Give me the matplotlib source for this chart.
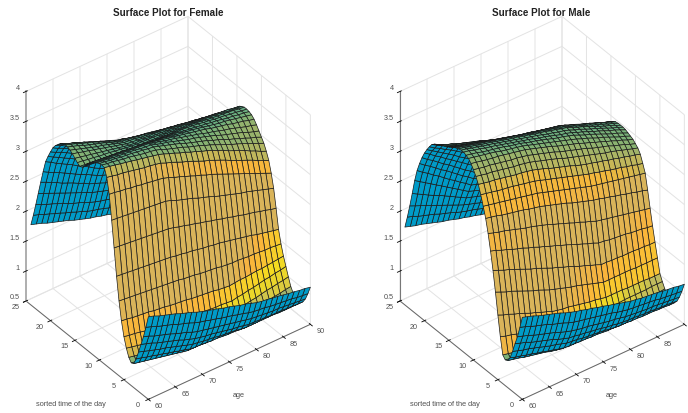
"""
Surface plots of z over age and sorted time of day, female and male panels.
"""
import numpy as np
import matplotlib
matplotlib.use("Agg")
import matplotlib.pyplot as plt
from matplotlib.colors import LinearSegmentedColormap, to_rgba
from mpl_toolkits.mplot3d import proj3d

plt.rcParams["font.family"] = ["Liberation Sans", "DejaVu Sans"]

ages = list(range(60, 91))
hours = [0.5 * i for i in range(49)]
x_ticks = [60, 65, 70, 75, 80, 85, 90]
y_ticks = [0, 5, 10, 15, 20, 25]
z_ticks = [0.5, 1, 1.5, 2, 2.5, 3, 3.5, 4]
z_labels = ["0.5", "1", "1.5", "2", "2.5", "3", "3.5", "4"]

# values, in hundredths; one row per hour value, one column per age
female_z = [
    [188,185,181,178,175,172,168,165,162,158,155,152,150,147,144,142,139,136,134,131,128,126,125,123,122,120,118,117,115,114,112],
    [167,164,160,157,154,151,147,144,141,137,134,132,129,127,124,122,120,117,115,112,110,109,108,106,105,104,103,102,100,99,98],
    [148,145,141,138,135,132,128,125,122,118,115,113,111,109,107,105,103,101,99,97,95,94,93,92,91,91,90,89,88,87,86],
    [132,129,126,122,119,116,113,110,106,103,100,98,96,95,93,91,89,87,86,84,82,82,81,81,80,80,80,79,79,78,78],
    [116,113,110,107,104,102,99,96,93,90,87,86,84,83,82,80,79,78,77,75,74,74,74,74,74,74,73,73,73,73,73],
    [101,99,96,94,91,89,86,84,81,79,76,75,75,74,73,73,72,71,71,70,69,69,69,70,70,70,70,70,71,71,71],
    [90,88,86,84,82,80,78,76,74,72,70,70,70,69,69,69,69,69,68,68,68,69,69,70,70,71,71,71,72,72,73],
    [88,86,84,82,80,78,76,74,72,70,68,68,68,69,69,69,69,69,70,70,70,71,72,73,74,75,75,76,77,78,79],
    [94,92,90,87,85,83,81,79,76,74,72,72,72,73,73,73,73,73,74,74,74,75,77,78,79,81,82,83,84,86,87],
    [106,104,102,100,98,96,93,91,89,87,85,85,85,85,85,85,84,84,84,84,84,86,87,89,90,92,94,95,97,98,100],
    [122,120,119,117,115,114,112,110,109,107,105,104,104,103,102,102,101,100,100,99,98,100,101,103,104,106,108,109,111,112,114],
    [145,144,142,141,140,139,137,136,135,133,132,131,130,128,127,126,125,124,122,121,120,121,122,122,123,124,124,125,126,127,128],
    [175,174,173,172,171,170,169,168,167,166,165,164,162,161,160,158,157,156,155,153,152,151,151,150,149,149,148,147,147,146,145],
    [213,212,211,210,209,208,207,206,205,204,203,201,200,198,197,195,193,192,190,189,187,185,183,181,179,177,174,172,170,168,166],
    [257,256,255,254,253,252,251,250,249,248,247,245,242,240,237,235,232,230,227,225,222,220,217,215,212,210,208,205,203,200,198],
    [300,299,298,297,296,295,294,293,292,291,290,287,283,280,277,274,270,267,264,260,257,254,251,248,245,243,240,237,234,231,228],
    [340,339,337,336,334,333,331,330,328,327,325,322,318,315,311,308,304,301,297,294,290,286,282,278,274,270,266,262,258,254,250],
    [365,363,361,360,358,356,354,352,351,349,347,343,340,336,332,329,325,321,317,314,310,306,302,297,293,289,285,281,276,272,268],
    [378,376,374,372,370,368,366,364,362,360,358,355,351,348,344,341,337,334,330,327,323,319,315,310,306,302,298,293,289,284,280],
    [379,377,376,374,372,371,369,367,365,364,362,359,355,352,349,346,342,339,336,332,329,325,321,317,313,310,306,302,298,294,290],
    [378,377,375,374,372,371,370,368,367,365,364,361,358,355,352,349,345,342,339,336,333,329,326,322,318,315,311,308,304,301,297],
    [376,375,374,372,371,370,369,368,366,365,364,361,358,356,353,350,347,344,342,339,336,333,330,326,323,320,317,314,310,307,304],
    [373,372,371,370,369,368,367,366,365,364,363,360,358,355,353,351,348,346,343,341,338,335,333,330,327,325,322,319,316,314,311],
    [370,369,368,367,366,365,364,363,362,361,360,358,356,354,352,350,348,346,344,342,340,338,335,333,331,329,326,324,322,319,317],
    [366,365,364,363,362,361,360,359,358,357,356,354,353,351,350,348,346,345,343,342,340,338,336,334,332,331,329,327,325,323,321],
    [361,360,359,358,357,356,355,354,353,352,351,350,349,347,346,345,344,343,341,340,339,337,336,334,333,331,329,328,326,325,323],
    [355,354,353,352,351,350,349,348,347,346,345,344,344,343,342,342,341,340,340,339,338,337,335,334,332,331,330,328,327,325,324],
    [349,348,347,346,345,344,343,342,341,340,339,339,338,338,338,338,337,337,337,336,336,335,334,332,331,330,329,328,327,325,324],
    [347,346,345,344,343,342,341,340,339,338,337,337,336,336,335,335,335,334,334,333,333,332,331,330,329,328,327,325,324,323,322],
    [350,349,347,346,344,343,342,340,339,337,336,335,335,334,334,333,332,332,331,331,330,329,328,327,326,325,324,323,322,320,319],
    [354,352,350,348,346,344,342,340,338,336,334,333,333,332,331,331,330,329,329,328,327,326,324,323,322,321,320,318,317,315,314],
    [358,356,353,351,348,346,343,341,338,336,333,332,331,330,329,329,328,327,326,325,324,322,321,319,318,316,314,313,311,310,308],
    [361,358,355,352,349,346,344,341,338,335,332,331,330,328,327,326,325,324,323,321,320,318,316,315,313,311,309,307,306,304,302],
    [363,360,357,353,350,347,344,341,337,334,331,329,328,326,325,323,321,320,318,317,315,313,311,309,307,305,303,301,299,297,295],
    [364,360,357,353,350,347,343,339,336,332,329,327,325,323,321,320,318,316,314,312,310,308,305,303,300,298,296,293,291,288,286],
    [362,358,355,351,348,344,340,337,333,330,326,324,321,319,317,315,312,310,308,305,303,300,298,295,293,290,287,285,282,280,277],
    [359,355,351,348,344,340,336,332,329,325,321,318,316,313,311,308,305,303,300,298,295,292,289,287,284,281,278,275,273,270,267],
    [354,350,346,342,338,335,331,327,323,319,315,312,309,306,303,301,298,295,292,289,286,283,280,277,274,271,268,265,262,259,256],
    [349,345,340,336,332,328,323,319,315,310,306,303,300,297,294,291,287,284,281,278,275,272,269,265,262,259,256,253,249,246,243],
    [342,337,333,328,324,319,314,310,305,301,296,293,289,286,282,279,276,272,269,265,262,259,255,252,249,246,242,239,236,232,229],
    [332,327,323,318,313,309,304,299,294,290,285,281,278,274,270,267,263,259,255,252,248,245,241,238,235,232,228,225,222,218,215],
    [321,316,311,306,301,296,291,286,281,276,271,267,264,260,256,253,249,245,241,238,234,231,228,224,221,218,215,212,208,205,202],
    [309,304,298,293,288,283,277,272,267,261,256,252,249,245,241,238,234,230,226,223,219,216,213,210,207,205,202,199,196,193,190],
    [289,284,279,275,270,265,260,255,251,246,241,237,234,230,227,223,219,216,212,209,205,202,200,197,195,192,190,187,185,182,180],
    [268,264,259,255,250,246,242,237,233,228,224,221,217,214,211,208,204,201,198,194,191,189,187,184,182,180,178,176,173,171,169],
    [246,242,238,234,230,226,222,218,214,210,206,203,200,197,194,191,188,185,182,179,176,174,172,170,168,166,163,161,159,157,155],
    [224,220,216,213,209,205,201,197,194,190,186,183,180,178,175,172,169,166,164,161,158,156,154,152,150,149,147,145,143,141,139],
    [203,200,196,193,189,186,182,179,175,172,168,165,163,160,157,155,152,149,146,144,141,139,138,136,135,133,131,130,128,127,125],
    [184,181,178,174,171,168,165,162,158,155,152,149,147,144,142,139,136,134,131,129,126,125,123,122,120,119,118,116,115,113,112],
]
male_z = [
    [187,184,181,177,174,171,168,165,161,158,155,153,150,148,145,143,140,138,135,133,130,129,127,126,125,124,122,121,120,118,117],
    [167,164,160,157,154,151,147,144,141,137,134,132,130,128,126,124,122,120,117,115,113,112,111,110,109,108,106,105,104,103,102],
    [148,145,142,138,135,132,129,126,122,119,116,114,112,111,109,107,105,103,102,100,98,97,96,95,94,94,93,92,91,90,89],
    [133,130,127,123,120,117,114,111,107,104,101,100,98,97,95,94,92,90,89,87,86,85,85,84,83,83,82,81,81,80,79],
    [117,114,111,109,106,103,100,97,95,92,89,88,87,85,84,83,82,81,79,78,77,77,76,76,75,75,75,74,74,73,73],
    [103,100,98,95,93,90,88,85,83,80,78,77,77,76,76,75,75,74,73,73,72,72,72,72,72,72,72,72,72,72,72],
    [95,93,91,88,86,84,82,80,77,75,73,73,72,72,72,71,71,71,71,70,70,70,71,71,72,72,72,73,73,74,74],
    [93,91,89,87,85,83,81,79,77,75,73,73,73,73,73,72,72,72,72,72,72,73,73,74,74,75,76,76,77,77,78],
    [98,96,94,92,90,88,86,84,82,80,78,78,78,77,77,77,77,77,76,76,76,77,77,78,79,79,80,81,81,82,83],
    [125,122,120,117,114,112,109,106,103,101,98,97,96,96,95,94,93,92,92,91,90,90,90,91,91,91,91,91,92,92,92],
    [158,154,151,147,144,140,136,133,129,126,122,120,118,117,115,113,111,109,108,106,104,104,104,104,103,103,103,103,102,102,102],
    [193,189,185,182,178,174,170,166,163,159,155,152,149,146,143,141,138,135,132,129,126,126,126,126,126,126,125,125,125,125,125],
    [226,222,218,215,211,207,203,199,196,192,188,184,181,177,174,170,166,163,159,156,152,152,151,151,150,150,150,149,149,148,148],
    [255,252,248,245,241,238,235,231,228,224,221,217,214,210,207,203,199,196,192,189,185,184,182,181,180,179,177,176,175,173,172],
    [281,278,275,273,270,267,264,261,259,256,253,250,246,243,239,236,232,229,225,222,218,216,214,212,210,208,206,204,202,200,198],
    [303,301,299,296,294,292,290,288,285,283,281,278,275,272,269,266,262,259,256,253,250,248,245,243,240,238,235,233,230,228,225],
    [320,318,316,314,312,310,308,306,304,302,300,297,294,291,288,285,282,279,276,273,270,268,266,264,262,260,258,256,254,252,250],
    [336,334,332,330,328,327,325,323,321,319,317,314,311,308,305,302,299,296,293,290,287,285,282,280,277,275,273,270,268,265,263],
    [350,348,346,345,343,341,339,337,336,334,332,329,326,322,319,316,313,310,306,303,300,298,295,293,290,288,285,283,280,278,275],
    [360,358,356,355,353,351,349,347,346,344,342,339,336,333,330,327,323,320,317,314,311,308,305,302,299,297,294,291,288,285,282],
    [368,366,364,363,361,359,357,355,354,352,350,347,344,341,338,335,331,328,325,322,319,316,312,309,306,303,299,296,293,289,286],
    [375,373,371,369,367,366,364,362,360,358,356,353,350,347,344,341,337,334,331,328,325,321,318,314,311,307,304,300,297,293,290],
    [380,378,376,374,372,370,367,365,363,361,359,356,353,350,347,344,341,338,335,332,329,325,322,318,314,311,307,303,299,296,292],
    [382,380,378,375,373,371,369,367,364,362,360,357,354,352,349,346,343,340,338,335,332,328,324,321,317,313,309,305,302,298,294],
    [384,382,379,377,374,372,370,367,365,362,360,357,355,352,349,347,344,341,338,336,333,329,326,322,318,315,311,307,304,300,296],
    [384,382,379,377,374,372,370,367,365,362,360,357,355,352,350,347,344,342,339,337,334,330,327,323,319,316,312,308,304,301,297],
    [383,381,378,376,373,371,369,366,364,361,359,357,354,352,349,347,345,342,340,337,335,331,327,324,320,316,312,308,305,301,297],
    [381,379,376,374,371,369,367,364,362,359,357,355,352,350,347,345,343,340,338,335,333,329,326,322,319,315,311,308,304,301,297],
    [379,376,374,371,369,366,363,361,358,356,353,351,349,346,344,342,340,338,335,333,331,328,324,321,317,314,310,307,303,300,296],
    [376,373,371,368,365,363,360,357,354,352,349,347,345,343,341,339,336,334,332,330,328,325,321,318,314,311,307,304,300,297,293],
    [373,370,367,364,361,359,356,353,350,347,344,342,340,338,336,334,332,330,328,326,324,321,317,314,310,307,304,300,297,293,290],
    [370,367,364,361,358,356,353,350,347,344,341,339,337,334,332,330,328,326,323,321,319,316,312,309,305,302,299,295,292,288,285],
    [368,365,362,359,356,353,350,347,344,341,338,336,333,331,328,326,324,321,319,316,314,311,307,304,300,297,294,290,287,283,280],
    [366,363,360,356,353,350,347,344,340,337,334,331,329,326,324,321,318,316,313,311,308,305,301,298,294,291,288,284,281,277,274],
    [363,359,356,352,349,345,341,338,334,331,327,324,322,319,317,314,311,309,306,304,301,298,294,291,287,284,281,277,274,270,267],
    [360,356,352,348,344,340,335,331,327,323,319,316,314,311,308,306,303,300,297,295,292,289,285,282,278,275,272,268,265,261,258],
    [358,353,349,344,339,335,330,325,320,316,311,308,305,302,299,297,294,291,288,285,282,279,275,272,268,265,262,258,255,251,248],
    [354,349,344,338,333,328,323,318,312,307,302,299,296,292,289,286,283,280,276,273,270,267,264,260,257,254,251,248,244,241,238],
    [347,341,336,330,325,319,313,308,302,297,291,288,284,281,277,274,271,267,264,260,257,254,251,247,244,241,238,235,231,228,225],
    [339,333,327,321,315,309,302,296,290,284,278,275,271,268,264,261,258,254,251,247,244,241,238,235,232,229,225,222,219,216,213],
    [330,324,317,311,304,298,291,285,278,272,265,262,258,255,251,248,244,241,237,234,230,227,224,221,218,215,212,209,206,203,200],
    [319,312,306,299,292,286,279,272,265,259,252,248,245,241,238,234,230,227,223,220,216,213,211,208,205,203,200,197,194,192,189],
    [306,299,293,286,279,273,266,259,252,246,239,235,232,228,225,221,217,214,210,207,203,201,198,196,193,191,188,186,183,181,178],
    [291,284,278,271,265,258,251,245,238,232,225,222,218,215,211,208,204,201,197,194,190,188,185,183,180,178,176,173,171,168,166],
    [271,265,259,253,247,241,235,229,223,217,211,208,204,201,198,195,191,188,185,181,178,176,174,171,169,167,164,162,160,157,155],
    [246,241,236,231,226,222,217,212,207,202,197,194,191,188,185,182,178,175,172,169,166,164,162,160,158,156,154,152,150,148,146],
    [222,218,214,210,206,202,198,194,190,186,182,179,176,173,170,168,165,162,159,156,153,151,149,148,146,144,142,140,139,137,135],
    [200,197,193,190,187,184,180,177,174,170,167,164,162,159,156,154,151,148,145,143,140,139,137,136,134,133,132,130,129,127,126],
    [180,177,174,172,169,166,163,160,158,155,152,150,147,145,142,140,138,135,133,130,128,127,126,125,124,123,121,120,119,118,117],
]

ELEV, AZIM = 37.6, -127.2
BOX = (203, 202, 264)
BLUE = "#009bc8"

upper_cmap = LinearSegmentedColormap.from_list("upper", [
    (0.00, "#1f8f9a"), (0.118, "#4fa58a"), (0.235, "#7cb277"), (0.353, "#a4b468"),
    (0.47, "#c0b75c"), (0.54, "#f0b83c"), (0.62, "#f8b63c"), (0.72, "#d9b45a"),
    (1.00, "#d9b45a")])
lower_old = LinearSegmentedColormap.from_list("lower_old", [
    (0.00, "#4fa58a"), (0.16, "#7cb277"), (0.29, "#b5b56a"), (0.48, "#f5dc20"),
    (0.68, "#f8cc2c"), (0.84, "#fab43c"), (1.00, "#d9b45a")])
lower_young = LinearSegmentedColormap.from_list("lower_young", [
    (0.00, "#4fa58a"), (0.16, "#7cb277"), (0.32, "#c0b75c"), (0.48, "#f0b83c"),
    (0.80, "#f8b63c"), (1.00, "#d9b45a")])


def face_colors(z):
    """Blue where the underside faces the viewer, otherwise by slope along the hour axis."""
    xs = np.array(ages, float) / 30 * BOX[0]
    ys = np.array(hours) / 25 * BOX[1]
    zs = z / 3.5 * BOX[2]
    a = np.radians(AZIM)
    e = np.radians(ELEV)
    view = np.array([np.cos(e) * np.cos(a), np.cos(e) * np.sin(a), np.sin(e)])

    dzdx = np.diff(zs, axis=1)[:-1, :] / np.diff(xs)[0]
    dzdy = np.diff(zs, axis=0)[:, :-1] / np.diff(ys)[0]
    facing = -dzdx * view[0] - dzdy * view[1] + view[2]

    step = np.diff(hours)[0]
    slope = (np.diff(z, axis=0)[:, :-1] + np.diff(z, axis=0)[:, 1:]) / (2 * step)
    mid_hours = (np.array(hours[:-1]) + np.array(hours[1:])) / 2
    mid_ages = (np.array(ages[:-1]) + np.array(ages[1:])) / 2
    old = np.clip((mid_ages - 70) / 10, 0, 1)[:, None]

    colors = np.zeros(slope.shape + (4,))
    for i, h in enumerate(mid_hours):
        if h < 7:
            t = np.clip(slope[i] / 0.62, 0, 1)
            colors[i] = lower_old(t) * old + lower_young(t) * (1 - old)
        else:
            colors[i] = upper_cmap(np.clip((slope[i] + 0.15) / 0.85, 0, 1))
    colors[facing < 0] = to_rgba(BLUE)
    return colors


def corner_px(ax, x, y, z):
    px, py, _ = proj3d.proj_transform(x, y, z, ax.get_proj())
    return ax.transData.transform((px, py))


def put_text(fig, x_px, y_px, s, **kw):
    fig.text(x_px / 688, 1 - y_px / 414, s, va="center", **kw)


def draw_panel(fig, z_table, corner, z_line, title, title_x, age_x, time_x):
    ax = fig.add_axes([0.1, 0.05, 0.6, 0.9], projection="3d", proj_type="ortho")
    ax.set_facecolor("none")
    ax.view_init(elev=ELEV, azim=AZIM)
    ax.set_xlim(60, 90, view_margin=0)
    ax.set_ylim(0, 25, view_margin=0)
    ax.set_zlim(0.5, 4, view_margin=0)
    ax.set_box_aspect(BOX, zoom=1.0)

    X, Y = np.meshgrid(ages, hours)
    Z = np.array(z_table) / 100.0
    ax.plot_surface(X, Y, Z, rstride=1, cstride=1, facecolors=face_colors(Z),
                    shade=False, edgecolor="#1a1a1a", linewidth=0.5, antialiased=True)

    ax.set_xticks(x_ticks)
    ax.set_yticks(y_ticks)
    ax.set_zticks(z_ticks)
    ax.set_xticklabels([])
    ax.set_yticklabels([])
    ax.set_zticklabels([])
    for axis in (ax.xaxis, ax.yaxis, ax.zaxis):
        axis.set_pane_color((1, 1, 1, 0))
        axis.line.set_color("#666666")
        axis.line.set_linewidth(0.7)
        axis._axinfo["grid"].update(color="#e3e3e3", linewidth=0.7)
        axis._axinfo["tick"].update(color="#555555", linewidth={True: 0.6, False: 0.4})
    ax.zaxis.line.set_color(z_line[0])
    ax.zaxis.line.set_linewidth(z_line[1])

    # scale and shift so the box corners land where the reference has them
    fig.canvas.draw()
    a = corner_px(ax, 60, 0, 0.5)
    b = corner_px(ax, 90, 0, 0.5)
    ax.set_box_aspect(BOX, zoom=162.0 / (b[0] - a[0]))
    fig.canvas.draw()
    a = corner_px(ax, 60, 25, 0.5)
    bbox = ax.get_position()
    dx = (corner[0] - a[0]) / fig.bbox.width
    dy = (414 - corner[1] - a[1]) / fig.bbox.height
    ax.set_position([bbox.x0 + dx, bbox.y0 + dy, bbox.width, bbox.height])
    fig.canvas.draw()

    tick_style = dict(fontsize=5.2, color="#505050")
    for v in x_ticks:
        px, py = corner_px(ax, v, 0, 0.5)
        if px + 6 < 688:
            put_text(fig, px + 10.5, 414 - py + 6.5, str(v), ha="center", **tick_style)
    for v in y_ticks:
        px, py = corner_px(ax, 60, v, 0.5)
        put_text(fig, px - 10.5, 414 - py + 5.5, str(v), ha="center", **tick_style)
    for v, s in zip(z_ticks, z_labels):
        px, py = corner_px(ax, 60, 25, v)
        put_text(fig, px - 6.5, 414 - py - 4, s, ha="right", **tick_style)

    put_text(fig, title_x, 13, title, ha="center", fontsize=7.1, fontweight="bold", color="#222222")
    put_text(fig, age_x, 396, "age", ha="center", fontsize=5.35, color="#505050")
    put_text(fig, time_x, 405, "sorted time of the day", ha="center", fontsize=5.35, color="#505050")


fig = plt.figure(figsize=(6.88, 4.14), dpi=100)
draw_panel(fig, female_z, (26, 302), ("#aaaaaa", 1.3), "Surface Plot for Female", 168, 239, 71)
draw_panel(fig, male_z, (400, 302), ("#777777", 0.8), "Surface Plot for Male", 541, 612, 445)
fig.savefig("out.png", dpi=100)
plt.close(fig)
